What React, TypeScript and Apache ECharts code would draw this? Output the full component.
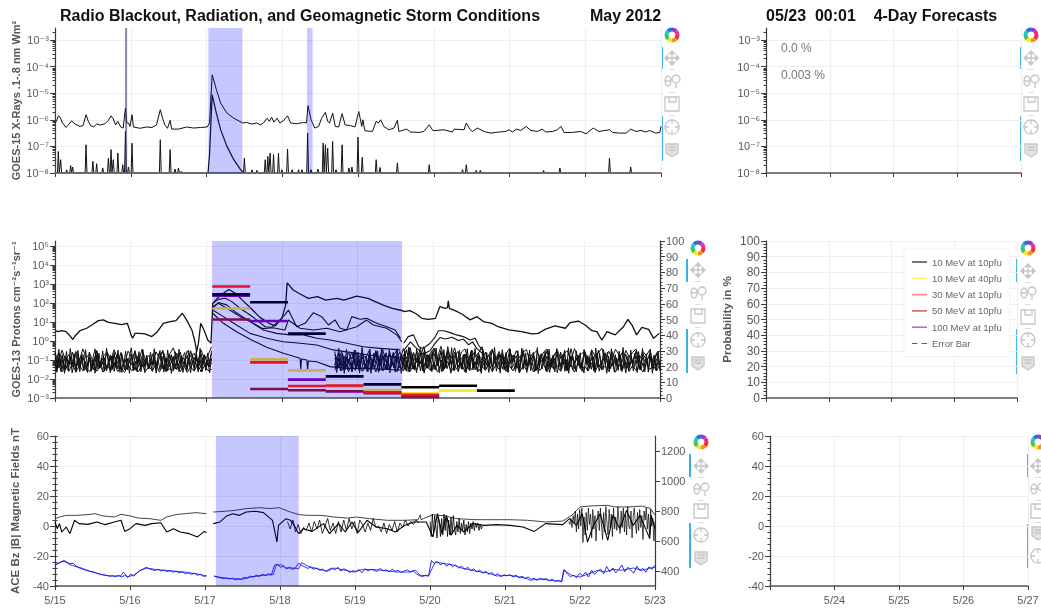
import React, { useEffect, useRef } from "react";
import * as echarts from "echarts";

// ---------- tick labels ----------
const dayLabels = ["5/15", "5/16", "5/17", "5/18", "5/19", "5/20", "5/21", "5/22", "5/23"];
const forecastLabels = ["", "5/24", "5/25", "5/26", "5/27"];
const xrayExps = [-8, -7, -6, -5, -4, -3];
const protonExps = [-3, -2, -1, 0, 1, 2, 3, 4, 5];
const windTicks = [400, 600, 800, 1000, 1200];
const probabilityLegend = ["10 MeV at 10pfu", "10 MeV at 40pfu", "30 MeV at 10pfu", "50 MeV at 10pfu", "100 MeV at 1pfu", "Error Bar"];

// ---------- GOES-15 X-rays: [day after 5/15, log10 flux] ----------
const xrayLong = [[0,-6.12],[.02,-6.06],[.044,-5.85],[.066,-5.9],[.1,-6.12],[.146,-6.29],[.176,-6.19],[.22,-6.04],[.264,-6.16],[.33,-6.25],[.37,-6.22],[.41,-5.81],[.44,-6.06],[.47,-6.22],[.51,-6.27],[.55,-6.15],[.595,-6.2],[.66,-6.15],[.705,-6.02],[.74,-5.85],[.77,-5.97],[.8,-6.19],[.83,-6.06],[.867,-6.27],[.9,-6.31],[.93,-5.56],[.947,-6.12],[.97,-6.12],[.99,-6.25],[1.017,-5.81],[1.035,-6.27],[1.12,-6.32],[1.21,-6.27],[1.28,-6.29],[1.34,-6.19],[1.39,-5.62],[1.42,-5.94],[1.45,-6.19],[1.485,-6.32],[1.52,-6.02],[1.54,-6.35],[1.63,-6.35],[1.74,-6.27],[1.83,-6.31],[1.92,-6.29],[2.01,-6.27],[2.04,-6.12],[2.075,-4.31],[2.13,-4.86],[2.186,-5.37],[2.27,-5.75],[2.36,-5.94],[2.477,-6.12],[2.53,-6.1],[2.6,-6.16],[2.665,-6.12],[2.71,-6.19],[2.75,-6.12],[2.8,-5.94],[2.83,-6.06],[2.86,-5.9],[2.89,-6.09],[2.93,-5.94],[2.97,-6.12],[3.02,-6.02],[3.07,-5.85],[3.11,-6.12],[3.19,-6.15],[3.28,-6.1],[3.32,-6.12],[3.34,-5.47],[3.38,-6],[3.43,-6.31],[3.48,-6.25],[3.52,-5.94],[3.57,-5.72],[3.6,-6.06],[3.625,-6.12],[3.665,-5.75],[3.7,-6.25],[3.745,-6.27],[3.79,-5.77],[3.83,-6.19],[3.9,-6.22],[3.96,-6.27],[4.01,-5.69],[4.05,-6.25],[4.065,-6],[4.09,-6.41],[4.19,-6.44],[4.24,-6.06],[4.27,-6.12],[4.3,-6],[4.34,-6.25],[4.41,-6.375],[4.475,-6.31],[4.52,-6.02],[4.54,-6.44],[4.64,-6.35],[4.695,-6.46],[4.805,-6.475],[4.87,-6.44],[4.94,-6.19],[4.99,-6.41],[5.135,-6.375],[5.245,-6.46],[5.27,-6.35],[5.4,-6.375],[5.43,-6.12],[5.475,-6.35],[5.51,-6.44],[5.575,-6.31],[5.665,-6.44],[5.75,-6.5],[5.86,-6.46],[5.95,-6.44],[5.99,-6.375],[6.04,-6.46],[6.09,-6.35],[6.15,-6.4],[6.22,-6.25],[6.28,-6.4],[6.37,-6.44],[6.43,-6.35],[6.48,-6.46],[6.57,-6.44],[6.63,-6.375],[6.68,-6.25],[6.72,-6.475],[6.83,-6.475],[6.94,-6.44],[7.01,-6.525],[7.105,-6.31],[7.18,-6.44],[7.32,-6.375],[7.36,-6.475],[7.45,-6.5],[7.54,-6.5],[7.6,-6.35],[7.67,-6.44],[7.735,-6.4],[7.8,-6.46],[7.85,-6.4],[7.93,-6.5],[7.985,-6.475],[8,-6.25]];
const xrayShortFlare = [[2.02,-8],[2.04,-7.3],[2.075,-5.06],[2.13,-5.75],[2.186,-6.37],[2.27,-7],[2.36,-7.5],[2.45,-7.87],[2.49,-8]];
const xrayShortSpikes = [[.044,-7.19],[.075,-7.5],[.154,-7.88],[.207,-7.72],[.233,-7.775],[.33,-7.96],[.41,-6.94],[.5,-7.56],[.55,-7.65],[.63,-7.81],[.705,-7.44],[.74,-7.12],[.77,-7.5],[.83,-7.25],[.894,-7.69],[.93,-6.43],[.97,-7.775],[1.017,-6.88],[1.39,-6.75],[1.52,-7.12],[1.585,-7.85],[1.63,-7.81],[1.665,-7.94],[2.5,-7.44],[2.6,-7.88],[2.665,-7.9],[2.775,-7.5],[2.81,-7.375],[2.84,-7.25],[2.885,-7.31],[2.95,-7.25],[2.995,-7.875],[3.07,-7.1],[3.13,-7.875],[3.215,-7.875],[3.26,-7.875],[3.335,-6.5],[3.38,-7.875],[3.47,-7.85],[3.54,-6.875],[3.57,-6.94],[3.6,-7.06],[3.665,-6.81],[3.71,-7.875],[3.79,-6.94],[3.88,-7.81],[3.92,-7.775],[4.0,-6.65],[4.056,-7.41],[4.24,-7.5],[4.29,-7.79],[4.52,-7.62],[4.94,-7.69],[5.25,-7.96],[5.38,-7.875],[5.43,-7.69],[5.56,-7.9],[5.615,-7.9],[6.22,-7.975],[6.45,-7.9],[6.665,-7.81],[7.32,-7.44],[7.6,-7.775]];

// ---------- GOES-13 protons: [day, log10 flux] ----------
const protonTop = [[0,.54],[.044,.49],[.088,.54],[.146,.49],[.2,.26],[.234,.09],[.265,.26],[.33,.54],[.42,.67],[.507,.89],[.573,1.07],[.64,1.11],[.705,.98],[.79,.93],[.88,.86],[.957,.93],[1.005,.32],[1.027,.14],[1.058,.4],[1.124,.4],[1.19,.37],[1.28,.23],[1.354,.49],[1.433,.93],[1.52,1.02],[1.6,1.07],[1.684,1.46],[1.74,1.11],[1.81,.58],[1.85,-.04],[1.874,-.56],[1.896,-.12],[1.927,.93],[1.97,.58],[2.02,.05],[2.063,-.12],[2.086,1.98],[2.185,2.41],[2.3,2.71],[2.39,2.5],[2.477,2.15],[2.59,1.72],[2.71,1.24],[2.83,.93],[2.91,.79],[3,1.19],[3.05,1.89],[3.07,3.06],[3.15,2.68],[3.23,2.5],[3.35,2.24],[3.47,2.33],[3.58,2.15],[3.73,2.24],[3.82,2.15],[3.99,2.36],[4.14,2.24],[4.22,2.1],[4.34,1.89],[4.46,1.72],[4.6,1.59],[4.61,1.54],[4.695,1.6],[4.78,1.42],[4.85,1.19],[4.94,1.14],[5.03,1.19],[5.09,1.81],[5.16,1.72],[5.19,1.75],[5.2,2.11],[5.215,1.72],[5.29,1.6],[5.38,1.42],[5.49,1.11],[5.58,1.28],[5.665,1.02],[5.775,.93],[5.86,.75],[6,.58],[6.17,.49],[6.305,.37],[6.39,.4],[6.48,.61],[6.61,.79],[6.75,.67],[6.81,.96],[6.92,1.05],[7.01,.84],[7.1,.54],[7.165,.49],[7.23,.05],[7.3,.49],[7.407,.32],[7.517,.75],[7.575,1.14],[7.63,.84],[7.69,.32],[7.76,.72],[7.85,.61],[7.915,.14],[7.99,.4]];
const protonB = [[2.085,1.98],[2.16,2.19],[2.25,2.25],[2.337,2.07],[2.447,1.72],[2.58,1.37],[2.67,1.1],[2.78,.75],[2.864,.72],[2.95,1.02],[3.04,1.37],[3.086,1.63],[3.196,.75],[3.307,.93],[3.417,1.49],[3.527,1.28],[3.616,.84],[3.704,1.11],[3.77,.67],[3.858,.58],[3.924,1.28],[4.035,1.14],[4.12,1.19],[4.255,.93],[4.387,.75],[4.497,.58],[4.57,.14]];
const protonC = [[2.085,1.72],[2.16,2.02],[2.27,1.9],[2.38,1.54],[2.51,1.2],[2.62,.93],[2.75,.65],[2.88,.7],[3.04,.58],[3.086,1.1],[3.24,.67],[3.417,.58],[3.594,.67],[3.77,.49],[3.99,.75],[4.12,1.1],[4.21,.84],[4.387,.67],[4.52,.32],[4.586,-.04]];
const protonD = [[2.085,1.8],[2.16,1.98],[2.31,1.63],[2.447,1.28],[2.58,1.02],[2.755,.58],[2.93,.4],[3.108,.32],[3.285,.32],[3.46,.14],[3.638,.05],[3.858,-.12],[4.08,-.3],[4.3,-.39],[4.565,-.47]];
const protonE = [[2.085,1.63],[2.227,1.28],[2.4,.84],[2.58,.4],[2.8,.14],[3.02,-.04],[3.24,-.12],[3.46,-.21],[3.68,-.47],[3.99,-.65],[4.255,-.79],[4.565,-.86]];
const protonF = [[2.085,1.46],[2.227,.93],[2.4,.49],[2.6,.05],[2.8,-.33],[3.02,-.65],[3.24,-.91],[3.25,-1.5],[3.26,-.95],[3.33,-1],[3.34,-1.5],[3.35,-1.05],[3.46,-1.09],[3.638,-1.35],[3.858,-1.44],[4.08,-1.44],[4.565,-1.53]];
const protonAfterA = [[4.61,-.12],[4.67,.23],[4.74,.32],[4.81,-.3],[4.87,-.39],[4.96,-.12],[5.03,.23],[5.07,.54],[5.14,.54],[5.225,.44],[5.31,.32],[5.4,.23],[5.49,.05],[5.555,.14],[5.6,-.21],[5.665,-.56]];
const protonAfterB = [[4.61,-.5],[4.7,-.05],[4.76,-.3],[4.87,-.7],[4.96,-.5],[5.03,-.1],[5.09,.18],[5.16,.1],[5.25,.2],[5.335,.02],[5.4,.1],[5.47,-.2],[5.52,-.05],[5.58,-.4],[5.665,-.7]];

// quiet-time channels, read as -log10(flux) x 100
const noiseEarlyA = [158,122,163,131,160,118,165,128,157,140,162,116,159,135,164,124,158,112,161,138,166,126,155,142,163,120,160,133,158,119,164,129,161,145,157,114,162,127,165,137,159,121,163,130,156,150];
const noiseEarlyB = [92,141,78,150,103,136,70,146,88,128,96,152,74,139,110,145,83,133,66,148,99,126,85,154,72,137,94,143,107,130,63,147,90,135,81,151,100,124,76,142,86,149,68,131,97,120];
const noiseEarlyC = [60,118,48,96,72,125,55,104,42,88,66,112,50,130,78,58,101,46,93,70,122,53,85,62,115,44,98,75,128,57,90,49,108,68,36,95,59,120,52,83,64,110,47,99,73,30];
const noiseEarlyD = [135,62,150,80,122,58,144,95,70,155,85,128,54,140,100,66,148,76,118,60,152,90,125,50,138,82,110,145,68,128,92,56,155,74,134,64,120,88,148,52,116,96,142,72,130,65];
const noiseEarlyE = [62,150,44,132,71,158,55,140,40,120,66,163,50,128,78,155,46,136,58,160,84,42,147,64,125,52,158,38,118,74,150,60,142,48,165,68,130,54,152,80,36,144,70,122,56,162,45,134,76,148,59,126,41,156,86,50,138,67,160,47,116,72,152,57,133,43,145,82,61,158,49,124,69,140,53,164,39,130,75,150,63,137,51];
const noiseEarlyF = [110,165,88,160,102,170,95,155,80,168,115,150,92,162,76,158,108,166,84,152,98,170,72,145,112,163,90,157,104,168,78,160,100,148,86,165,118,154,94,170,70,158,106,162,82,150,96,167,74,143,114,160,89,169,101,152,79,164,93,156,108,171,85,147,99,161,77,166,111,153,87,168,103,158,73,144,97,163,83,155,107,167,91];
const noiseLateA = [150,120,158,110,162,128,155,105,160,135,150,118,163,100,158,126,152,112,160,130,158,118,162,125,150,105,160,135,155,112,164,122,148,108,161,130,156,116,163,127,150,110,159,133,155,119,162,126,148,115,160,131,157,121,165,128,152,113,161,136,154,124,163,118,149,130,160,109,156,127,163,120,151,134,158,115,162,125,149,132,159,117,164,123,152,111,160,129,155,137,163,119,150,128,158,122];
const noiseLateB = [90,140,72,148,95,130,60,152,84,125,100,145,66,135,78,150,58,128,92,142,70,135,55,148,88,120,60,140,96,65,130,50,145,82,118,58,138,92,70,150,84,125,62,142,98,75,135,105,68,146,88,122,76,140,100,64,132,110,72,148,90,126,80,144,104,70,134,95,150,78,118,86,142,66,128,98,74,138,108,62,146,84,124,92,140,70,130,102,76,150,88,116,64,136,94,122];
const noiseLateC = [70,105,55,118,62,95,48,110,68,90,52,120,60,100,45,112,74,85,50,108,40,95,35,110,55,80,30,100,60,38,88,28,105,50,92,36,112,58,42,98,48,85,62,30,108,72,45,95,55,120,68,40,102,52,88,60,45,115,70,50,98,58,42,110,75,48,92,64,52,105,40,86,68,55,118,46,78,62,38,100,54,90,44,72,110,50,84,60,42,98,56,76,48,112,66,52];
const noiseLateD = [125,65,140,78,110,58,135,88,60,148,72,118,50,130,92,62,145,70,108,55,130,45,150,60,115,35,140,70,155,40,105,62,148,30,125,80,55,142,68,120,48,152,75,100,58,138,44,126,85,62,150,52,112,78,140,46,130,90,60,155,72,108,50,144,82,58,128,66,146,40,118,74,136,54,104,88,150,48,122,70,134,56,110,92,60,145,76,116,52,138,68,100,84,148,62,126];
const noiseLateE = [55,148,38,130,66,156,44,122,72,160,48,138,58,150,34,126,80,162,42,144,64,118,52,158,36,134,70,152,46,128,60,164,40,120,76,146,50,160,32,136,68,154,43,124,62,158,47,142,74,116,54,150,37,132,82,162,45,140,57,128,35,155,65,121,49,147,71,159,41,135,56,152,39,125,78,161,44,143,61,119,53,157,33,137,69,149,46,127,59,165,42,123,73,145,51,160,38,133,63,153,48,129,81,158,35,141,67,117,55,151,43,131,75,163,40,139,58,122,47,156,36,134,70,148,52,126,62,160,44,120,77,144,50,158,37,136,66,152,45,124,60,162,41,130,72,146,54,155,34,128,79,159,48,140,64,118,56,150,39,135,68,164,43,121,74,147,53,157];
const noiseLateF = [118,166,92,158,105,170,84,152,112,163,76,148,100,168,88,155,120,160,80,170,96,145,108,165,72,158,116,150,90,167,102,142,78,160,110,170,86,154,98,163,74,148,114,166,82,156,104,169,94,144,70,161,118,152,88,167,100,158,80,146,112,170,76,155,106,163,92,149,84,168,98,157,72,143,116,162,90,170,78,151,108,165,96,147,82,159,110,169,74,153,102,164,86,145,120,160,94,168,80,150,104,166,70,156,114,162,88,171,100,148,76,158,108,165,92,146,84,167,118,154,72,160,98,170,82,152,106,163,78,144,112,168,90,157,100,149,86,166,74,159,116,151,94,170,80,147,104,164,88,155,70,161,110,169,96,143,84,158,102,166,76,153,114,162,92,148,82,170,98,156,108,150];

// ---------- forecast probabilities, one per half day ----------
const forecastStarts = [2.08, 2.58, 3.08, 3.58, 4.08, 4.58, 5.08, 5.58];
const prob10at10 = [66, 61, 41, 13.8, 8.7, 6.8, 7.8, 4.7];
const prob10at40 = [57, 24.6, 17.6, 7.2, 5.1, 3, 4.7, null];
const prob30at10 = [71, 22.7, 7.6, 8, 3.6, 2.1, null, null];
const prob50at10 = [50, 5.7, 4.9, 4.3, 3, 1.1, null, null];
const prob100at1 = [65.2, 49, 11.7, 4.3, 3.4, .6, null, null];

// ---------- ACE ----------
const aceB = [[0,4.9],[.06,6],[.15,7.1],[.29,7.1],[.44,7.6],[.53,8.2],[.64,6.7],[.79,6],[.88,7.8],[1,6.7],[1.11,5.3],[1.26,4.9],[1.41,3.8],[1.49,6],[1.61,7.6],[1.73,8.2],[1.88,8.9],[2.02,8.2],[2.06,null],[2.11,9.3],[2.26,9.8],[2.4,10.4],[2.55,11.6],[2.73,12.2],[2.87,11.6],[2.99,12.2],[3.11,9.8],[3.25,7.6],[3.37,7.1],[3.55,7.1],[3.72,6],[3.9,5.3],[4.02,6],[4.19,4.9],[4.43,3.8],[4.66,3.8],[4.84,4.2],[4.87,7.6],[4.88,4.2],[5.04,7.6],[5.19,6.7],[5.36,4.9],[5.6,4.2],[5.83,4.2],[6.07,4.2],[6.3,3.8],[6.54,2.7],[6.77,3.3],[6.89,7.1],[7,12.7],[7.12,13.3],[7.36,13.8],[7.47,12.7],[7.65,12.7],[7.83,13.3],[7.94,11.6],[8,7.1]];
const aceBz = [[0,2.7],[.03,-1.8],[.06,1.6],[.09,-4],[.15,-.7],[.2,-5.1],[.26,3.8],[.32,1.6],[.44,1.1],[.56,2.7],[.67,.9],[.79,2.7],[.88,3.8],[.93,-3.6],[1,-1.8],[1.08,1.6],[1.2,.4],[1.29,1.6],[1.41,2.2],[1.49,-4],[1.58,-1.8],[1.67,-4],[1.79,-5.1],[1.9,-7.3],[1.99,-3.6],[2.02,-4.4],[2.06,null],[2.11,1.6],[2.2,2.7],[2.29,6.7],[2.37,8.2],[2.46,7.1],[2.55,9.3],[2.67,9.8],[2.78,8.9],[2.9,3.8],[2.96,-10.7],[2.98,.4],[3.08,4.9],[3.14,3.8],[3.19,.4],[3.25,-5.1],[3.31,-1.8],[3.43,-3.6],[3.58,1.6],[3.66,-5.1],[3.78,1.6],[3.87,-4],[3.96,2.7],[4.04,-4.4],[4.16,3.8],[4.28,-.7],[4.43,-1.8],[4.54,-4],[4.66,.4],[4.78,2.7],[4.95,2.7],[5.04,-7.3],[5.1,8.2],[5.16,-5.1],[5.22,7.1],[5.28,-6.2],[5.36,.4],[5.45,-4],[5.57,1.6],[5.72,.4],[5.89,.9],[6.07,.4],[6.24,-.7],[6.39,-3.6],[6.54,1.6],[6.77,.9],[6.86,4.9],[6.95,.4],[7.03,8.2],[7.1,-10.7],[7.18,.4],[7.27,8.2],[7.37,-9.6],[7.44,7.1],[7.53,-1.8],[7.62,10.4],[7.71,.4],[7.8,7.1],[7.93,-8.4],[7.95,7.1],[8,-1.8]];
const bzFineMid = [3,-2,4,-4,1,-5,-1,-3,2,-4,3,-2,4,-5,0,5,-3,2,-5,3,-4,4,-3,5,-2,3,-5,4,1,-4,2,-3,5,-1,0,-4,2,-5,1,-3,3,-4,2,-1,4,0,3,1,4,2];
const bzFineShock = [3,-7,8,-5,7,0,-8,6,2,-7,5,-6,8,-3,7,-7,4,-6,6,-5,7,-2,-6,3,-4,5,-5,2,-3,4,-6,1,-4,3,-5,2,-2,3,-3,2,-1,2,-3,1,-2,0];
const bzFineLate = [3,1,5,-1,7,2,10,-4,8,-2,11,0,12,-11,6,-6,9,-3,12,1,8,-8,11,-2,7,-10,5,10,-3,12,0,-9,9,-4,13,2,-6,11,-1,8,-7,12,-2,6,-3,13,3,-5,10,-1,12,-4,8,-6,13,0,-2,10,-8,6,12,2,-5,9,-3,11,-1,7,-9,10,4,12,-2,8,-6,11,0,5,-10,3];
const aceWind = [[0,438],[.06,456],[.12,465],[.2,442],[.29,427],[.38,409],[.5,393],[.62,376],[.73,367],[.88,367],[.91,393],[.97,360],[1.06,376],[1.14,405],[1.23,420],[1.35,409],[1.47,405],[1.58,400],[1.73,393],[1.88,382],[2.02,367],[2.07,null],[2.12,365],[2.26,353],[2.37,349],[2.49,344],[2.61,360],[2.78,371],[2.91,376],[2.95,438],[3.02,442],[3.08,420],[3.17,420],[3.25,416],[3.29,456],[3.37,433],[3.49,416],[3.63,398],[3.72,420],[3.87,405],[3.99,393],[4.1,411],[4.28,409],[4.43,400],[4.57,393],[4.72,393],[4.81,405],[4.87,371],[4.98,367],[5.07,460],[5.19,449],[5.3,442],[5.42,420],[5.6,400],[5.77,387],[5.89,367],[6.07,371],[6.27,353],[6.34,338],[6.48,349],[6.59,338],[6.76,331],[6.78,405],[6.89,371],[7,360],[7.12,382],[7.24,405],[7.33,393],[7.44,411],[7.56,405],[7.71,420],[7.83,405],[7.91,416],[8,427]];
const windFineEarly = [440,450,462,470,458,448,452,432,424,418,410,402,396,392,384,378,374,370,366,368,362,370,360,372,358,378,366,386,402,412,424,416,408,404,412,400,406,396,402,392,398,388,394,382,388,378,384,372,378,364,368];
const windFineLate = [368,360,356,350,354,346,352,342,348,345,358,352,366,360,372,365,378,370,382,374,438,445,425,432,415,425,410,422,452,438,428,418,424,412,420,405,412,398,410,420,408,425,400,415,405,390,402,396,410,388,415,400,412,405,396,418,402,408,395,412,398,404,390,400,408,392,402,380,370,362,372,366,470,450,462,440,455,432,448,428,440,420,432,410,425,402,415,395,405,385,398,378,390,370,382,362,375,368,375,360,372,355,365,350,360,345,352,338,348,342,350,335,345,330,338,328,410,380,362,372,355,385,368,392,360,405,378,398,412,382,430,395,420,388,410,440,395,425,405,385,432,402,418,392,428,410,438];

// ---------- shaded event windows, in days ----------
const xrayNarrowBand = [[.925, .952]];
const xrayBands = [[2.024, 2.474], [3.327, 3.4]];
const protonBands = [[2.077, 4.59]];
const aceBands = [[2.145, 3.25]];

// ---------- styles ----------
const FONT = "'Liberation Sans', 'DejaVu Sans', sans-serif";
const TXT = "#5a5a5a";
const AXIS = "#3a3a3a";
const GRIDC = "#eeeeee";
const BAND = "rgba(0,0,255,0.22)";
const LEGEND_COLORS = ["#555555", "#ffef7a", "#ff8c8c", "#c86a6a", "#b96cc8", "#555555"];
const BAR_COLORS = ["#000000", "#ffe52e", "#e8102c", "#a01020", "#8a00b0"];

const SUP: Record<string, string> = { "-": "⁻", "0": "⁰", "1": "¹", "2": "²", "3": "³", "4": "⁴", "5": "⁵", "6": "⁶", "7": "⁷", "8": "⁸", "9": "⁹" };
const powerLabel = (e: number) => "10" + String(e).split("").map((c) => SUP[c]).join("");
const logMinor = (a: number, b: number) => {
  const out: number[] = [];
  for (let k = a; k < b; k++) for (const m of [2, 3, 4, 5, 6, 7, 8, 9]) out.push(k + Math.log10(m));
  return out;
};

echarts.graphic.registerShape("bkPan", echarts.graphic.extendPath("M-7 0H7M0-7V7M-7 0l2.5-2.5v5zM7 0l-2.5-2.5v5zM0-7l-2.5 2.5h5zM0 7l-2.5-2.5h5z", {}));
echarts.graphic.registerShape("bkWheel", echarts.graphic.extendPath("M-4-5a3 5 0 1 0 .01 0zM-7 0H-1M4-6a4 4 0 1 0 .01 0zM4 2V7", {}));
echarts.graphic.registerShape("bkSave", echarts.graphic.extendPath("M-7-7H7V7H-7zM-3-7V-2H4V-7", {}));
echarts.graphic.registerShape("bkCross", echarts.graphic.extendPath("M0-7a7 7 0 1 0 .01 0zM0-7V-3M0 7V3M-7 0H-3M7 0H3", {}));
echarts.graphic.registerShape("bkHover", echarts.graphic.extendPath("M-6-6H6V3L0 7L-6 3zM-3.5-3H3.5M-3.5 0H3.5", {}));

const LOGO_COLORS = ["#f4312f", "#f7941d", "#f5e626", "#4cc34a", "#22c7d6", "#2a6fe0", "#8a3fd1", "#ec2f93"];
const GREY = "#c6c6c6";

function toolbar(x: number, barX: number, logoY: number, ys: number[], blue: number[][], order: string[]) {
  const els: any[] = [];
  LOGO_COLORS.forEach((c, i) =>
    els.push({
      type: "sector", silent: true,
      shape: { cx: x, cy: logoY, r: 7.5, r0: 3.4, startAngle: (i * Math.PI) / 4, endAngle: ((i + 1) * Math.PI) / 4 },
      style: { fill: c },
    })
  );
  order.forEach((name, i) =>
    els.push({
      type: name, x, y: ys[i], silent: true,
      style: { fill: name === "bkPan" ? GREY : name === "bkHover" ? "#e2e2e2" : "none", stroke: GREY, lineWidth: 1.3 },
    })
  );
  [0, 1, 2].forEach((i) =>
    els.push({ type: "line", silent: true, shape: { x1: x - 3, y1: ys[i] + 11.5, x2: x + 3, y2: ys[i] + 11.5 }, style: { stroke: "#dddddd", lineWidth: 1 } })
  );
  blue.forEach(([a, b]) =>
    els.push({ type: "rect", silent: true, shape: { x: barX - 1, y: a, width: 2, height: b - a }, style: { fill: "#35b3e6" } })
  );
  return els;
}

function axisX(gridIndex: number, min: number, max: number, labels: string[] | null) {
  return {
    type: "value", gridIndex, min, max, interval: 1,
    axisLine: { show: true, onZero: false, lineStyle: { color: "#555", width: 1.5 } },
    axisTick: { show: true, length: 4, lineStyle: { color: AXIS } },
    axisLabel: labels
      ? { show: true, color: TXT, fontSize: 11, fontFamily: FONT, margin: 8, hideOverlap: false, formatter: (v: number) => labels[v - min] ?? "" }
      : { show: false },
    splitLine: { show: true, lineStyle: { color: GRIDC, width: 1.2 } },
  };
}

function logAxes(gridIndex: number, exps: number[], max: number, label: string | null) {
  const min = exps[0];
  return [
    {
      type: "value", gridIndex, min, max, interval: 1, position: "left",
      name: label ?? "", nameLocation: "middle", nameGap: 34, nameRotate: 90, nameMoveOverlap: false,
      nameTextStyle: { color: "#555", fontSize: 11, fontWeight: "bold", fontFamily: FONT },
      axisLine: { show: true, onZero: false, lineStyle: { color: AXIS, width: 1.2 } },
      axisTick: { show: true, length: 5, customValues: exps, lineStyle: { color: AXIS } },
      axisLabel: { show: true, color: TXT, fontSize: 11, fontFamily: FONT, margin: 6, customValues: exps, formatter: (v: number) => powerLabel(Math.round(v)) },
      splitLine: { show: true, lineStyle: { color: GRIDC, width: 1.2 } },
    },
    {
      type: "value", gridIndex, min, max, position: "left",
      axisLine: { show: false }, axisLabel: { show: false }, splitLine: { show: false },
      axisTick: { show: true, length: 2.5, customValues: logMinor(min, Math.ceil(max)).filter((v) => v < max), lineStyle: { color: AXIS } },
    },
  ];
}

function linearLeft(gridIndex: number, min: number, max: number, interval: number, label: string | null, nameGap: number, fontSize: number) {
  return {
    type: "value", gridIndex, min, max, interval, position: "left",
    name: label ?? "", nameLocation: "middle", nameGap, nameRotate: 90, nameMoveOverlap: false,
    nameTextStyle: { color: "#555", fontSize: 11.5, fontWeight: "bold", fontFamily: FONT },
    axisLine: { show: true, onZero: false, lineStyle: { color: AXIS, width: 1.2 } },
    axisTick: { show: true, length: 5, lineStyle: { color: AXIS } },
    minorTick: { show: true, length: 2.5, splitNumber: 5, lineStyle: { color: AXIS } },
    axisLabel: { show: true, color: TXT, fontSize, fontFamily: FONT, margin: 6 },
    splitLine: { show: true, lineStyle: { color: GRIDC, width: 1.2 } },
  };
}

const lineSeries = (x: number, y: number, data: any[], width = 1, color = "#111", z = 2) => ({
  type: "line", xAxisIndex: x, yAxisIndex: y, data, showSymbol: false, symbol: "none", z, silent: true, animation: false,
  lineStyle: { color, width }, itemStyle: { color },
  connectNulls: false,
});

const bandSeries = (x: number, y: number, bands: number[][], color = BAND) => ({
  type: "line", xAxisIndex: x, yAxisIndex: y, data: [], symbol: "none", z: 6, silent: true, animation: false,
  markArea: {
    silent: true, z: 6, animation: false,
    itemStyle: { color, borderWidth: 0 },
    data: bands.map(([a, b]) => [{ xAxis: a }, { xAxis: b }]),
  },
});

const spreadRaw = (values: number[], from: number, to: number) => values.map((v, i) => [from + ((to - from) * i) / (values.length - 1), v]);
const spread = (values: number[], from: number, to: number) => spreadRaw(values, from, to).map(([d, v]) => [d, -v / 100]);
const steps = (values: (number | null)[]) =>
  values.flatMap((v, i) => (v === null ? [] : [[forecastStarts[i], v], [forecastStarts[i] + 0.5, v], [forecastStarts[i] + 0.5, null]]));
const spikes = (list: number[][]) => list.flatMap(([d, v]) => [[d - 0.012, -8], [d, v], [d + 0.012, -8]]);

const EARLY = [0, 2.07];
const LATE = [3.7, 8];

function buildOption() {
  const gridBase = { outerBoundsMode: "none", containLabel: false };
  const grid = [
    { ...gridBase, left: 55, top: 28, width: 606, height: 145 },
    { ...gridBase, left: 766, top: 28, width: 255, height: 145 },
    { ...gridBase, left: 55, top: 241, width: 605, height: 157 },
    { ...gridBase, left: 766, top: 241, width: 251, height: 157 },
    { ...gridBase, left: 55, top: 436, width: 600, height: 150 },
    { ...gridBase, left: 770, top: 436, width: 258, height: 150 },
  ];
  const xAxis = [
    axisX(0, 0, 8, null), axisX(1, 8, 12, null), axisX(2, 0, 8, null),
    axisX(3, 8, 12, null), axisX(4, 0, 8, dayLabels), axisX(5, 8, 12, forecastLabels),
  ];
  const yAxis: any[] = [
    ...logAxes(0, xrayExps, -2.55, "GOES-15 X-Rays .1-.8 nm Wm²"), // 0, 1
    ...logAxes(1, xrayExps, -2.55, null), // 2, 3
    ...logAxes(2, protonExps, 5.26, "GOES-13 Protons cm⁻²s⁻¹sr⁻¹"), // 4, 5
    { // 6 probability on the right
      type: "value", gridIndex: 2, min: 0, max: 100, interval: 10, position: "right",
      axisLine: { show: true, onZero: false, lineStyle: { color: AXIS, width: 1.2 } },
      axisTick: { show: true, length: 5, lineStyle: { color: AXIS } },
      minorTick: { show: true, length: 2.5, splitNumber: 5, lineStyle: { color: AXIS } },
      axisLabel: { show: true, color: TXT, fontSize: 11, fontFamily: FONT, margin: 6 },
      splitLine: { show: false },
    },
    linearLeft(3, 0, 100, 10, "Probability in %", 33, 12), // 7
    linearLeft(4, -40, 60, 20, "ACE Bz |B| Magnetic Fields nT", 34, 11), // 8
    { // 9 solar wind on the right
      type: "value", gridIndex: 4, min: 300, max: 1300, position: "right",
      axisLine: { show: true, onZero: false, lineStyle: { color: AXIS, width: 1.2 } },
      axisTick: { show: true, length: 5, customValues: windTicks, lineStyle: { color: AXIS } },
      axisLabel: { show: true, color: TXT, fontSize: 11, fontFamily: FONT, margin: 6, customValues: windTicks, formatter: (v: number) => String(v) },
      splitLine: { show: false },
    },
    { // 10 its minor ticks
      type: "value", gridIndex: 4, min: 300, max: 1300, position: "right",
      axisLine: { show: false }, axisLabel: { show: false }, splitLine: { show: false },
      axisTick: { show: true, length: 2.5, customValues: Array.from({ length: 26 }, (_, i) => 300 + i * 40), lineStyle: { color: AXIS } },
    },
    linearLeft(5, -40, 60, 20, null, 30, 11), // 11
  ];

  const series: any[] = [
    // x-rays
    lineSeries(0, 0, xrayLong, 1),
    lineSeries(0, 0, spikes(xrayShortSpikes), 1),
    lineSeries(0, 0, xrayShortFlare, 1.2),
    lineSeries(0, 0, [[0, -8], [8, -8]], 1.5, "#777"),
    bandSeries(0, 0, xrayBands),
    bandSeries(0, 0, xrayNarrowBand, "rgba(40,40,120,0.55)"),
    // protons
    ...[noiseEarlyA, noiseEarlyB, noiseEarlyC, noiseEarlyD, noiseEarlyE, noiseEarlyF].map((a) => lineSeries(2, 4, spread(a, EARLY[0], EARLY[1]), 1)),
    ...[noiseLateA, noiseLateB, noiseLateC, noiseLateD, noiseLateE, noiseLateF].map((a) => lineSeries(2, 4, spread(a, LATE[0], LATE[1]), 1)),
    lineSeries(2, 4, protonTop, 1.3),
    ...[protonB, protonC, protonD, protonE, protonF, protonAfterA, protonAfterB].map((a) => lineSeries(2, 4, a, 1.1)),
    lineSeries(2, 6, steps(prob100at1), 2.6, BAR_COLORS[4], 3),
    lineSeries(2, 6, steps(prob50at10), 2.6, BAR_COLORS[3], 3),
    lineSeries(2, 6, steps(prob10at40), 2.6, BAR_COLORS[1], 3),
    lineSeries(2, 6, steps(prob10at10), 2.6, BAR_COLORS[0], 3),
    lineSeries(2, 6, steps(prob30at10), 2.6, BAR_COLORS[2], 7),
    bandSeries(2, 4, protonBands),
    // ace
    lineSeries(4, 8, aceB, 1, "#444"),
    lineSeries(4, 8, aceBz, 1.1, "#000"),
    lineSeries(4, 8, spreadRaw(bzFineMid, 3.1, 4.85), 0.8, "#000"),
    lineSeries(4, 8, spreadRaw(bzFineShock, 5.0, 5.7), 0.8, "#000"),
    lineSeries(4, 8, spreadRaw(bzFineLate, 6.85, 8), 0.7, "#000"),
    lineSeries(4, 9, aceWind, 0.8, "#1212e6"),
    lineSeries(4, 9, spreadRaw(windFineEarly, 0, 2.02), 0.9, "#1212e6"),
    lineSeries(4, 9, spreadRaw(windFineLate, 2.12, 8), 0.9, "#1212e6"),
    bandSeries(4, 8, aceBands),
    // legend entries of the empty forecast panel
    ...probabilityLegend.map((name, i) => ({
      ...lineSeries(3, 7, [], 1.6, LEGEND_COLORS[i]),
      name,
    })),
  ];

  const tb = ["bkPan", "bkWheel", "bkSave", "bkCross", "bkHover"];
  const graphic = [
    { type: "text", x: 781, y: 42, silent: true, style: { text: "0.0 %", fill: "#777", font: `12px ${FONT}` } },
    { type: "text", x: 781, y: 69, silent: true, style: { text: "0.003 %", fill: "#777", font: `12px ${FONT}` } },
    ...toolbar(672, 662, 35, [58, 81, 104, 127, 150], [[47, 69], [116, 161]], tb),
    ...toolbar(1031, 1021, 35, [58, 81, 104, 127, 150], [[47, 69], [116, 161]], tb),
    ...toolbar(698, 687, 248, [270, 293, 316, 340, 363], [[259, 282], [329, 373]], tb),
    ...toolbar(1028, 1017, 248, [271, 293, 317, 340, 363], [[259, 282], [329, 374]], tb),
    ...toolbar(701, 690, 442, [466, 489, 511, 535, 558], [[454, 477], [523, 568]], tb),
    ...toolbar(1038, 1028, 442, [466, 489, 511, 533, 556], [[454, 477], [524, 568]], ["bkPan", "bkWheel", "bkSave", "bkHover", "bkCross"]),
  ];

  const titleStyle = { color: "#111", fontSize: 16, fontWeight: "bold" as const, fontFamily: FONT };
  return {
    animation: false,
    backgroundColor: "#ffffff",
    title: [
      { text: "Radio Blackout, Radiation, and Geomagnetic Storm Conditions", left: 60, top: 7, padding: 0, textStyle: titleStyle },
      { text: "May 2012", left: 590, top: 7, padding: 0, textStyle: titleStyle },
      { text: "05/23  00:01    4-Day Forecasts", left: 766, top: 7, padding: 0, textStyle: titleStyle },
    ],
    grid, xAxis, yAxis, series, graphic,
    legend: {
      show: true, orient: "vertical", left: 904, top: 249,
      padding: [8, 8, 8, 8], itemWidth: 15, itemHeight: 1.6, itemGap: 6.3, icon: "rect",
      backgroundColor: "#ffffff", borderColor: "#f1f1f1", borderWidth: 1,
      selectedMode: false,
      data: probabilityLegend.map((name, i) => ({
        name,
        icon: name === "Error Bar" ? "path://M0 0H5V1H0zM9 0H14V1H9z" : "rect",
        itemStyle: { color: LEGEND_COLORS[i] },
        lineStyle: { opacity: 0 },
      })),
      textStyle: { color: "#666", fontSize: 9.5, fontFamily: FONT },
    },
  };
}

export default function App() {
  const ref = useRef<HTMLDivElement>(null);
  useEffect(() => {
    const chart = echarts.init(ref.current as HTMLDivElement, undefined, { renderer: "svg" });
    chart.setOption(buildOption() as any);
    return () => chart.dispose();
  }, []);
  return <div ref={ref} style={{ position: "absolute", left: 0, top: 0, width: 1041, height: 608, filter: "blur(0.6px)" }} />;
}
